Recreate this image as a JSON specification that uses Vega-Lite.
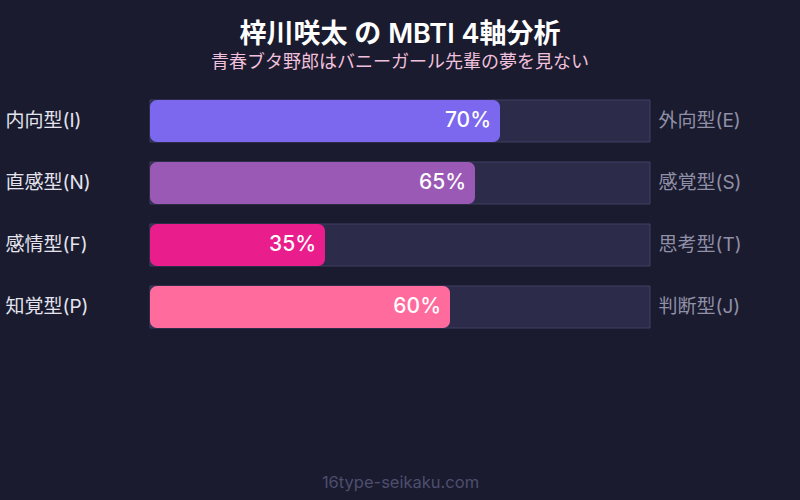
{
  "$schema": "https://vega.github.io/schema/vega-lite/v6.json",
  "width": 500,
  "height": 228,
  "autosize": {"type": "none"},
  "padding": {"left": 150, "right": 150, "top": 100, "bottom": 172},
  "background": "#1a1b2e",
  "config": {"view": {"stroke": null}, "font": "Inter, Noto Sans CJK JP"},
  "title": {
    "text": "梓川咲太 の MBTI 4軸分析",
    "subtitle": "青春ブタ野郎はバニーガール先輩の夢を見ない",
    "anchor": "middle",
    "color": "#ffffff",
    "fontSize": 27,
    "fontWeight": 600,
    "subtitleColor": "#f0c0dc",
    "subtitleFontSize": 18,
    "subtitleFontWeight": "normal",
    "subtitlePadding": 5,
    "offset": 27,
    "font": "Inter, Noto Sans CJK JP",
    "subtitleFont": "Inter, Noto Sans CJK JP"
  },
  "data": {
    "values": [
      {"left": "内向型(I)", "right": "外向型(E)", "value": 70, "label": "70%", "full": 100},
      {"left": "直感型(N)", "right": "感覚型(S)", "value": 65, "label": "65%", "full": 100},
      {"left": "感情型(F)", "right": "思考型(T)", "value": 35, "label": "35%", "full": 100},
      {"left": "知覚型(P)", "right": "判断型(J)", "value": 60, "label": "60%", "full": 100}
    ]
  },
  "layer": [
    {
      "layer": [
        {
          "mark": {"type": "bar", "fill": "#2d2b4a", "stroke": "#404064", "strokeWidth": 1},
          "encoding": {
            "y": {
              "field": "left", "type": "nominal", "sort": null,
              "scale": {"type": "band", "paddingInner": 0.3226, "paddingOuter": 0},
              "axis": {"title": null, "ticks": false, "domain": false, "labelAlign": "left", "labelPadding": 145, "labelColor": "#e4e4ee", "labelFontSize": 19, "labelFontWeight": "normal", "labelFont": "Inter, Noto Sans CJK JP"}
            },
            "x": {
              "field": "full", "type": "quantitative",
              "scale": {"domain": [0, 100]},
              "axis": {"title": "16type-seikaku.com", "labels": false, "ticks": false, "domain": false, "grid": false, "titlePadding": 146, "titleColor": "#4e4e6e", "titleFontSize": 16.5, "titleFontWeight": "normal", "titleFont": "Inter, Noto Sans CJK JP"}
            }
          }
        },
        {
          "mark": {"type": "bar", "cornerRadius": 7},
          "encoding": {
            "y": {"field": "left", "type": "nominal", "sort": null},
            "x": {"field": "value", "type": "quantitative"},
            "color": {
              "field": "left", "type": "nominal", "legend": null,
              "scale": {"domain": ["内向型(I)", "直感型(N)", "感情型(F)", "知覚型(P)"], "range": ["#7b68ee", "#9b59b6", "#e91e8c", "#ff6b9d"]}
            }
          }
        },
        {
          "mark": {"type": "text", "align": "right", "dx": -9, "color": "#ffffff", "fontSize": 21, "fontWeight": 500, "baseline": "middle"},
          "encoding": {
            "y": {"field": "left", "type": "nominal", "sort": null},
            "x": {"field": "value", "type": "quantitative"},
            "text": {"field": "label"}
          }
        }
      ]
    },
    {
      "mark": {"type": "bar", "opacity": 0},
      "encoding": {
        "y": {
          "field": "right", "type": "nominal", "sort": null,
          "scale": {"type": "band", "paddingInner": 0.3226, "paddingOuter": 0},
          "axis": {"orient": "right", "title": null, "ticks": false, "domain": false, "labelAlign": "left", "labelPadding": 8, "labelColor": "#9090a8", "labelFontSize": 19, "labelFontWeight": "normal", "labelFont": "Inter, Noto Sans CJK JP"}
        },
        "x": {"field": "value", "type": "quantitative"}
      }
    }
  ],
  "resolve": {"scale": {"y": "independent"}}
}
